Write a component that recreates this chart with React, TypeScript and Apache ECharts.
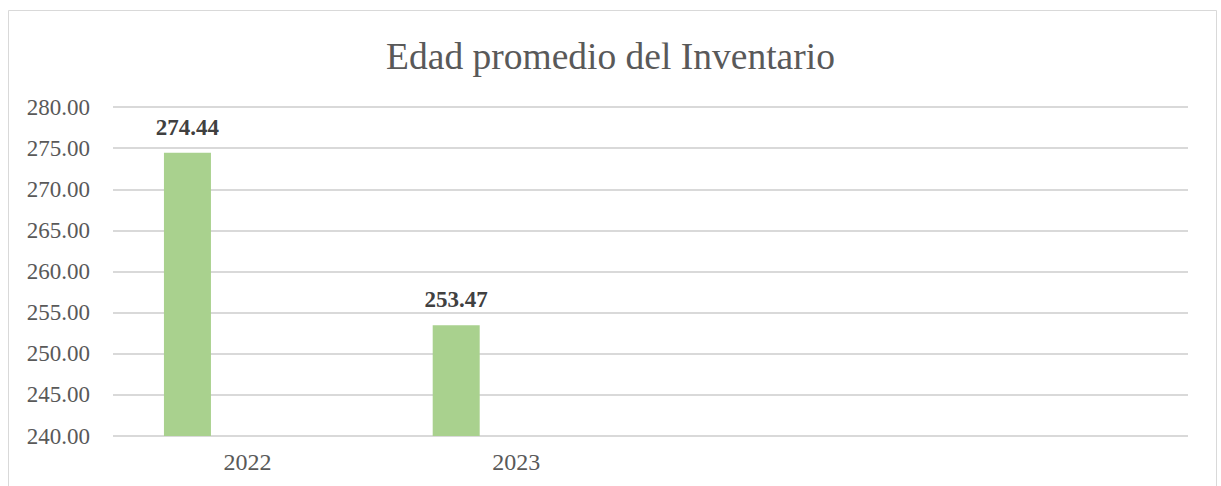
import React, { useEffect, useRef } from "react";
import * as echarts from "echarts";

const categories = ["2022", "2023", "", ""];
const seriesValues = [274.44, 253.47, null, null];
const emptySeries = [null, null, null, null];
const titleText = "Edad promedio del Inventario";
const yMin = 240;
const yMax = 280;
const yStep = 5;

export default function App() {
  const ref = useRef<HTMLDivElement>(null);
  useEffect(() => {
    if (!ref.current) return;
    const chart = echarts.init(ref.current, null, { renderer: "svg" });
    const font = "'Liberation Serif', 'Times New Roman', serif";
    chart.setOption({
      animation: false,
      backgroundColor: "#ffffff",
      title: {
        text: titleText,
        left: "center",
        top: 32,
        textStyle: { fontFamily: font, fontSize: 37.5, fontWeight: "normal", color: "#595959" },
      },
      graphic: [
        {
          type: "rect",
          shape: { x: 8.5, y: 10.5, width: 1208, height: 520 },
          style: { fill: "none", stroke: "#d9d9d9", lineWidth: 1 },
          silent: true,
        },
      ],
      grid: { left: 113, right: 33, top: 107, bottom: 50 },
      xAxis: {
        type: "category",
        data: categories,
        axisLine: { show: false },
        axisTick: { show: false },
        axisLabel: { fontFamily: font, fontSize: 24, color: "#595959", margin: 14 },
      },
      yAxis: {
        type: "value",
        min: yMin,
        max: yMax,
        interval: yStep,
        axisLine: { show: false },
        axisTick: { show: false },
        splitLine: { lineStyle: { color: "#d9d9d9", width: 2 } },
        axisLabel: {
          fontFamily: font,
          fontSize: 23,
          color: "#595959",
          margin: 23,
          formatter: (v: number) => v.toFixed(2),
        },
      },
      series: [
        {
          type: "bar",
          data: seriesValues,
          barWidth: 47,
          barGap: "155%",
          itemStyle: { color: "#a9d18e" },
          label: {
            show: true,
            position: "top",
            distance: 14,
            fontFamily: font,
            fontSize: 23,
            fontWeight: "bold",
            color: "#404040",
            formatter: (p: any) => (p.value == null ? "" : Number(p.value).toFixed(2)),
          },
        },
        {
          type: "bar",
          data: emptySeries,
          barWidth: 47,
          itemStyle: { color: "#5b9bd5" },
        },
      ],
    });
    return () => chart.dispose();
  }, []);
  return (
    <div
      ref={ref}
      style={{ position: "fixed", left: 0, top: 0, width: 1221, height: 486 }}
    />
  );
}
